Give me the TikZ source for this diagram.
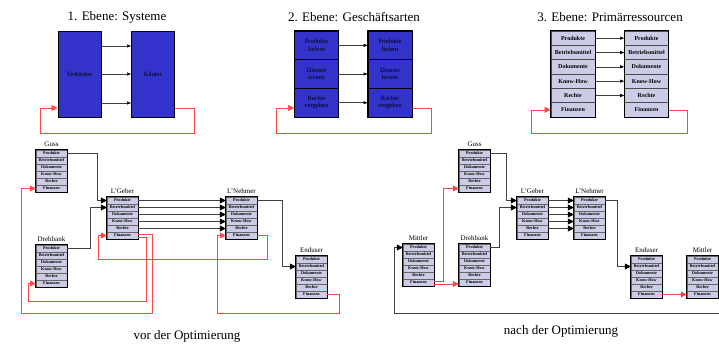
\documentclass[tikz,border=0pt]{standalone}
\usepackage{fontspec}
\setmainfont{Liberation Serif}
\usepackage{xcolor}
\usetikzlibrary{arrows.meta,positioning,calc}

\definecolor{sysblue}{RGB}{51,51,204}
\definecolor{reslav}{RGB}{204,204,230}
\definecolor{flowred}{RGB}{255,70,70}

% one small resource stack: name, left x, top y, title
\newcommand{\resstack}[4]{%
  \foreach \lab [count=\i] in {Produkte,Betriebsmittel,Dokumente,Know-How,Rechte,Finanzen}
    \node[resrow] (#1-\i) at (#2+15.5,#3+7*\i-3.5) {\lab};
  \draw[line width=1pt] (#1-1.north west) rectangle (#1-6.south east);
  \node[restitle] (#1-t) at (#2+15.5,#3-5.5) {#4};
}

\begin{document}
\begin{tikzpicture}[x=1pt,y=-1pt,
    sysbox/.style={draw,line width=1pt,fill=sysblue,minimum width=43pt,minimum height=86pt,inner sep=0pt,font=\fontsize{6.5}{7}\selectfont},
    gabox/.style={draw,line width=0.8pt,fill=sysblue,minimum width=44pt,minimum height=28.67pt,inner sep=0pt,align=center,font=\fontsize{6.5}{7.5}\selectfont},
    primrow/.style={draw=black!70,line width=0.6pt,fill=reslav,minimum width=44pt,minimum height=14.33pt,inner sep=0pt,font=\fontsize{6}{7}\selectfont\bfseries},
    resrow/.style={draw=black!60,line width=0.4pt,fill=reslav,minimum width=31pt,minimum height=7pt,inner sep=0pt,font=\fontsize{4.2}{4.5}\selectfont\bfseries},
    restitle/.style={inner sep=0pt,font=\fontsize{7}{8}\selectfont},
    headline/.style={inner sep=0pt,font=\fontsize{13}{15}\selectfont},
    toparrow/.style={draw=black!75,line width=0.6pt,-{Triangle[length=4pt,width=3pt,color=black]}},
    blkflow/.style={draw=black!75,line width=0.6pt,-{Triangle[length=6pt,width=6pt,color=black]}},
    redflow/.style={draw=flowred,line width=0.6pt,-{Triangle[length=6pt,width=6pt]}}]
    \useasboundingbox (0,0) rectangle (719,343);

    % Ebene 1
    \node[headline] (head1) at (117,17) {1. Ebene: Systeme};
    \node[sysbox] (verk) at (79.5,74) {Verkäufer};
    \node[sysbox] (kauf) at (153,74) {Käufer};
    \foreach \y in {46,74,103}
        \draw[toparrow] (verk.east |- 0,\y) -- (kauf.west |- 0,\y);
    \draw[redflow] (kauf.east |- 0,108) -| (194,133) -| (40,108) -- (verk.west |- 0,108);

    % Ebene 2
    \node[headline] (head2) at (354,17) {2. Ebene: Geschäftsarten};
    \foreach \lab [count=\i] in {{Produkte\\liefern},{Dienste\\leisten},{Rechte\\vergeben}} {
        \node[gabox] (gaL-\i) at (316.5,31+28.67*\i-14.33) {\lab};
        \node[gabox] (gaR-\i) at (390,31+28.67*\i-14.33) {\lab};
    }
    \foreach \i in {1,2,3}
        \draw[toparrow] (gaL-\i.east) -- (gaR-\i.west);
    \draw[line width=1pt] (gaL-1.north west) rectangle (gaL-3.south east);
    \draw[line width=1pt] (gaR-1.north west) rectangle (gaR-3.south east);
    \draw[redflow] (gaR-3.east |- 0,108) -| (431,133) -| (276,108) -- (gaL-3.west |- 0,108);

    % Ebene 3
    \node[headline] (head3) at (610,17) {3. Ebene: Primärressourcen};
    \foreach \lab [count=\i] in {Produkte,Betriebsmittel,Dokumente,Know-How,Rechte,Finanzen} {
        \node[primrow] (primL-\i) at (573,31+14.33*\i-7.17) {\lab};
        \node[primrow] (primR-\i) at (646.5,31+14.33*\i-7.17) {\lab};
    }
    \foreach \i in {1,...,5}
        \draw[toparrow] (primL-\i.east) -- (primR-\i.west);
    \draw[line width=1pt] (primL-1.north west) rectangle (primL-6.south east);
    \draw[line width=1pt] (primR-1.north west) rectangle (primR-6.south east);
    \draw[redflow] (primR-6.east) -| (687,133) -| ([xshift=-19pt]primL-6.west) -- (primL-6.west);

    % vor der Optimierung
    \resstack{gussA}{36}{150}{Guss}
    \resstack{drehA}{36}{245}{Drehbank}
    \resstack{lgebA}{107}{197}{L'Geber}
    \resstack{lnehA}{226}{197}{L'Nehmer}
    \resstack{endA}{296}{256}{Enduser}

    \draw[blkflow] (gussA-1.east) -- ++(30,0) |- (lgebA-1.west);
    \draw[blkflow] (drehA-1.east) -- ++(23,0) |- (lgebA-2.west);
    \foreach \i in {1,...,5}
        \draw[blkflow] (lgebA-\i.east) -- (lnehA-\i.west);
    \draw[blkflow] (lnehA-1.east) -- ++(25,0) |- (endA-2.west);

    \draw[redflow] ([yshift=-1.5pt]lgebA-6.east) -- ++(8,0) |- (28,301) |- (drehA-6.west);
    \draw[redflow] ([yshift=1.5pt]lgebA-6.east) -- ++(14,0) |- (21,313) |- (gussA-6.west);
    \draw[redflow] (lnehA-6.east) -- ++(10,0) |- (98,259) |- (lgebA-6.west);
    \draw[redflow] (endA-6.east) -- ++(12,0) |- (217,313) |- (lnehA-6.west);

    \node[headline] (capA) at (187,336) {vor der Optimierung};

    % nach der Optimierung
    \resstack{gussB}{459}{150}{Guss}
    \resstack{mittB}{403}{244}{Mittler}
    \resstack{drehB}{459}{244}{Drehbank}
    \resstack{lgebB}{517}{197}{L'Geber}
    \resstack{lnehB}{574}{197}{L'Nehmer}
    \resstack{endB}{631}{256}{Enduser}
    \resstack{mittC}{687}{256}{Mittler}

    \draw[blkflow] (gussB-1.east) -- ++(16,0) |- (lgebB-1.west);
    \draw[blkflow] (drehB-1.east) -- ++(9,0) |- (lgebB-2.west);
    \foreach \i in {1,...,5}
        \draw[blkflow] (lgebB-\i.east) -- (lnehB-\i.west);
    \draw[blkflow] (lnehB-1.east) -- ++(12,0) |- (endB-2.west);

    \draw[redflow] ([yshift=1.5pt]mittB-6.east) -- ++(9,0) |- (gussB-6.west);
    \draw[redflow] ([yshift=-1.5pt]mittB-6.east) -- ([yshift=-1.5pt]drehB-6.west);
    \draw[redflow] (endB-6.east) -- (mittC-6.west);

    \coordinate (rimR) at (719,313);
    \draw[blkflow] (rimR) -| ([xshift=-9pt]mittB-1.west) -- (mittB-1.west);

    \node[headline] (capB) at (561,331) {nach der Optimierung};
\end{tikzpicture}
\end{document}
